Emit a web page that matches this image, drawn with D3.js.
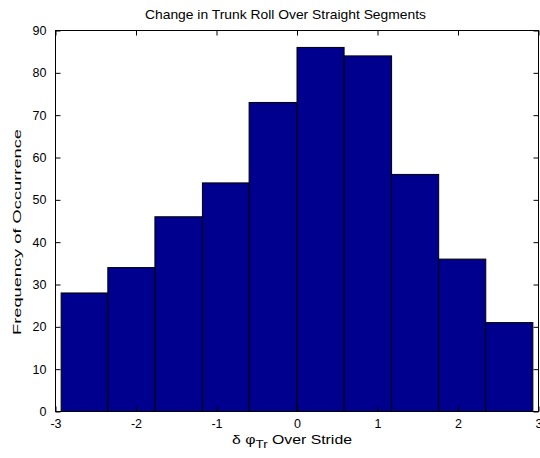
<!DOCTYPE html>
<html lang="en">
<head>
    <meta charset="UTF-8">
    <script type="text/javascript" src="https://cdn.jsdelivr.net/npm/d3@7/dist/d3.min.js"></script>
    <title>Change in Trunk Roll</title>
    <style>
        body { margin: 0; background: #fff; }
        svg { display: block; font-family: "Liberation Sans", Arial, sans-serif; }
        .tick text { font-size: 12.5px; fill: #000; }
        .tick line { stroke: #000; }
    </style>
</head>
<body>
<script>
    // histogram bins (edges) and counts
    var binEdges = [-2.93, -2.35, -1.765, -1.175, -0.595, 0, 0.585, 1.175, 1.76, 2.345, 2.93];
    var counts = [28, 34, 46, 54, 73, 86, 84, 56, 36, 21];
    var xTicks = [-3, -2, -1, 0, 1, 2, 3];
    var yTicks = [0, 10, 20, 30, 40, 50, 60, 70, 80, 90];

    var bins = counts.map(function(c, i){ return {x0: binEdges[i], x1: binEdges[i+1], n: c}; });

    var W = 540, H = 458;
    var pl = 55.5, pr = 538.5, pt = 30.5, pb = 411.5;

    var svg = d3.select("body").append("svg")
        .attr("width", W)
        .attr("height", H);

    var x = d3.scaleLinear().domain([-3, 3]).range([pl, pr]);
    var y = d3.scaleLinear().domain([0, 90]).range([pb, pt]);
    var fmt = function(d){ return String(d); };

    svg.selectAll("rect.bar")
        .data(bins)
        .enter()
        .append("rect")
        .attr("class", "bar")
        .attr("x", function(d){ return x(d.x0); })
        .attr("y", function(d){ return y(d.n); })
        .attr("width", function(d){ return x(d.x1) - x(d.x0); })
        .attr("height", function(d){ return y(0) - y(d.n); })
        .style("fill", "#00008f")
        .style("stroke", "#000")
        .style("stroke-width", 1);

    // box
    svg.append("rect")
        .attr("x", pl).attr("y", pt)
        .attr("width", pr - pl).attr("height", pb - pt)
        .style("fill", "none").style("stroke", "#000");

    var xAxis = d3.axisBottom(x).tickValues(xTicks).tickSize(-5).tickPadding(8).tickFormat(fmt);
    var yAxis = d3.axisLeft(y).tickValues(yTicks).tickSize(-5).tickPadding(9).tickFormat(fmt);

    svg.append("g").attr("transform", "translate(0," + pb + ")").call(xAxis)
        .call(function(g){ g.select(".domain").remove(); });
    svg.append("g").attr("transform", "translate(0," + pt + ")")
        .call(d3.axisTop(x).tickValues(xTicks).tickSize(-5).tickFormat(""))
        .call(function(g){ g.select(".domain").remove(); });
    svg.append("g").attr("transform", "translate(" + pl + ",0)").call(yAxis)
        .call(function(g){ g.select(".domain").remove(); });
    svg.append("g").attr("transform", "translate(" + pr + ",0)")
        .call(d3.axisRight(y).tickValues(yTicks).tickSize(-5).tickFormat(""))
        .call(function(g){ g.select(".domain").remove(); });

    // labels: MATLAB export draws them a bit wider than Arial, so stretch to the measured extents
    svg.append("text")
        .attr("x", 145).attr("y", 19)
        .attr("textLength", 281)
        .attr("lengthAdjust", "spacingAndGlyphs")
        .style("font-size", "13px")
        .text("Change in Trunk Roll Over Straight Segments");

    var xl = svg.append("text")
        .attr("x", 232).attr("y", 444)
        .attr("textLength", 120)
        .attr("lengthAdjust", "spacingAndGlyphs")
        .style("font-size", "13px");
    xl.append("tspan").text("\u03b4 \u03c6");
    xl.append("tspan").attr("dy", 4).style("font-size", "11px").text("Tr");
    xl.append("tspan").attr("dy", -4).text(" Over Stride");

    svg.append("text")
        .attr("transform", "translate(21,335) rotate(-90)")
        .attr("textLength", 206)
        .attr("lengthAdjust", "spacingAndGlyphs")
        .style("font-size", "11px")
        .text("Frequency of Occurrence");
</script>
</body>
</html>
